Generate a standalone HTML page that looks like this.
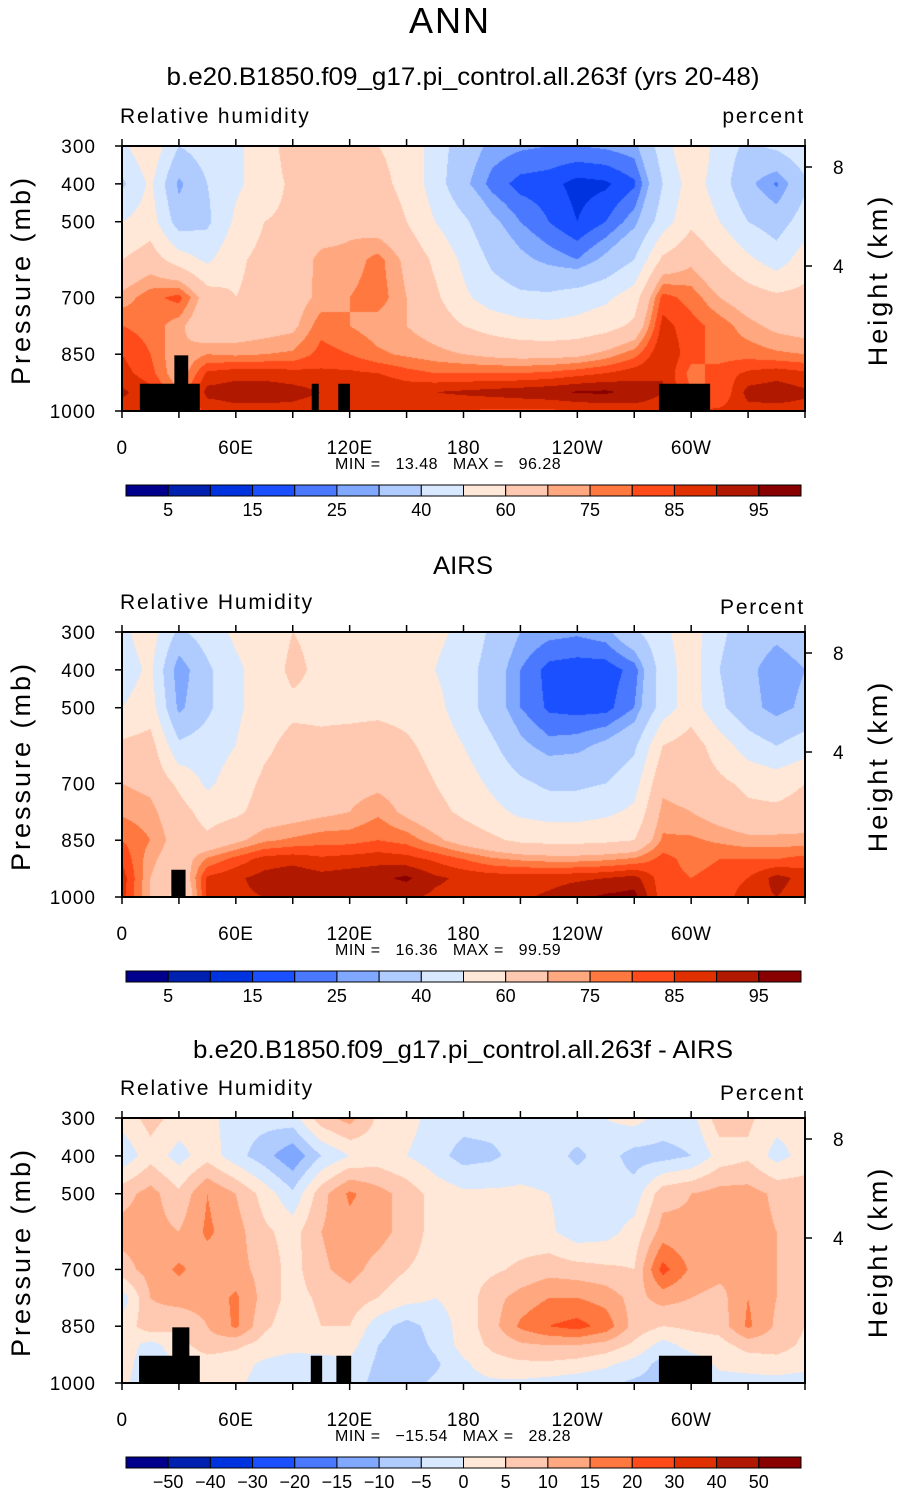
<!DOCTYPE html>
<html><head><meta charset="utf-8">
<style>
body{margin:0;background:#fff;width:899px;height:1493px;position:relative;overflow:hidden;font-family:"Liberation Sans",sans-serif}
canvas{position:absolute}
svg{position:absolute;left:0;top:0}
</style></head>
<body>
<canvas id="c0" width="683" height="265" style="left:122px;top:146px"></canvas>
<canvas id="c1" width="683" height="265" style="left:122px;top:632px"></canvas>
<canvas id="c2" width="683" height="265" style="left:122px;top:1118px"></canvas>
<svg id="ov" width="899" height="1493"></svg>
<script>
const levels=[300,400,500,600,700,775,850,900,950,1000];
const lons=[0,15,30,45,60,75,90,105,120,135,150,165,180,195,210,225,240,255,270,285,300,315,330,345,360];
const model=[
[48,58,40,45,48,55,65,65,65,60,58,45,35,28,26,25,25,26,28,45,60,45,38,42,48],
[38,52,28,40,48,55,62,62,65,62,58,45,32,23,18,17,13,14,19,40,55,45,32,24,38],
[50,55,35,38,52,60,62,65,68,65,60,50,42,32,25,20,15,20,28,45,58,50,40,35,45],
[60,65,55,48,58,63,65,72,72,77,68,58,48,38,32,28,25,32,40,62,68,60,52,45,55],
[72,78,82,65,60,63,66,72,75,78,70,62,52,45,42,42,45,48,55,82,78,70,65,62,63],
[80,78,72,62,64,66,68,78,75,72,70,66,60,56,53,52,53,56,62,87,82,78,72,68,66],
[85,80,70,75,74,75,76,82,80,76,74,72,70,68,67,67,68,72,78,90,82,78,78,76,75],
[87,82,70,86,88,88,87,86,86,85,82,80,80,80,80,81,83,85,88,90,78,82,86,88,86],
[91,87,75,92,93,93,92,90,88,90,89,90,91,92,93,94,95.5,96,93,90,80,80,92,93,91],
[88,86,80,86,88,88,88,87,87,86,87,86,85,84,84,84,85,86,88,88,85,86,88,88,88]];
const airs=[
[48,55,38,45,52,55,60,58,56,55,55,52,48,38,30,27,26,28,38,48,55,42,35,32,35],
[45,52,25,38,48,55,62,58,56,58,55,50,45,35,25,18,17,17,22,45,55,40,32,26,30],
[50,55,28,38,48,55,58,58,57,57,56,53,45,35,25,19,18,18,25,45,55,42,33,27,32],
[62,64,42,45,50,58,63,62,64,66,62,56,50,42,32,27,28,32,38,60,65,55,45,40,45],
[70,68,58,48,55,62,65,66,67,68,66,60,55,48,42,38,38,40,46,68,66,62,58,56,60],
[74,72,64,56,58,64,66,68,70,74,68,63,58,53,48,46,46,48,52,72,70,66,62,62,64],
[80,75,66,62,68,74,76,78,78,80,78,72,66,62,58,57,57,58,60,76,76,74,72,72,72],
[84,72,64,76,82,87,88,86,87,88,87,84,80,76,74,73,73,74,76,82,78,80,80,80,82],
[88,70,60,86,89,92,94,92,93,94,96,91,89,88,88,88,89,90,92,82,80,82,85,92,88],
[87,70,55,86,89,90,91,90,90,91,91,89,88,88,89,91,94,96,97,82,80,82,88,90,87]];
const diff=[
[2,7,3,2,-3,-3,-2,8,12,4,2,-2,-3,-3,-3,-3,-2,0,2,-2,-2,8,6,2,2],
[-4,3,-2,3,-3,-8,-14,-5,0,2,0,-3,-7,-6,-3,-3,-6,-3,-7,-7,-5,2,4,-2,2],
[8,12,6,15,10,3,-4,8,16,12,8,3,1,1,1,0,-2,-3,-3,8,10,12,12,9,8],
[12,12,10,16,12,6,3,10,13,12,8,3,2,2,2,1,-3,-2,2,12,11,12,12,10,10],
[8,12,16,12,12,8,3,9,12,8,5,3,3,4,6,8,7,6,5,22,14,12,10,10,8],
[-3,10,12,12,16,8,3,6,8,5,2,0,2,8,12,15,15,13,8,12,10,8,15,10,7],
[2,8,6,10,16,6,2,5,5,-3,-7,-3,2,8,16,20,22,18,8,5,6,7,16,9,5],
[3,-2,3,8,6,3,2,2,2,-5,-8,-4,2,6,9,10,10,8,4,-2,2,3,7,7,4],
[2,-3,0,2,2,-1,-3,-2,-1,-6,-9,-6,-1,3,4,4,3,1,-2,-7,-3,1,2,3,2],
[1,-3,0,2,1,-2,-3,-3,-2,-7,-7,-4,-2,-1,-1,-2,-3,-4,-6,-7,-3,-2,-2,-2,-3]];
const rhBounds=[5,10,15,20,25,30,40,50,60,70,75,80,85,90,95];
const rhTicks=["5","15","25","40","60","75","85","95"];
const diffBounds=[-50,-40,-30,-20,-15,-10,-5,0,5,10,15,20,30,40,50];
const diffTicks=["−50","−40","−30","−20","−15","−10","−5","0","5","10","15","20","30","40","50"];
const colors=["#00008c","#0020b0","#0033e0","#1a50ff","#4a78ff","#80a8ff","#b0ccff","#d8e8ff","#ffe8d8","#ffc8b0","#ffa880","#ff7840","#ff4a1a","#e03000","#b01800","#880000"];
const topo1=[[9.4,41,928],[27.6,34.9,853],[100,103.7,928],[114,120.2,928],[283,310,928]];
const topo2=[[26,33.5,928]];
const topo3=[[9,41,928],[26.5,35.5,853],[99.5,105.5,928],[113,120.8,928],[283,311,928]];

const PX=122,PW=683,PH=265;
const xOf=lon=>PX+lon/360*PW;
const yOf=(p,top)=>top+(p-300)/700*PH;
function rgb(h){return[parseInt(h.slice(1,3),16),parseInt(h.slice(3,5),16),parseInt(h.slice(5,7),16)];}
const crgb=colors.map(rgb);
function draw(id,grid,bounds){
  const cv=document.getElementById(id),ctx=cv.getContext('2d');
  const img=ctx.createImageData(PW,PH);
  for(let j=0;j<PH;j++){
    const p=300+(j+0.5)/PH*700;
    let r=0;while(r<levels.length-2&&p>levels[r+1])r++;
    const ty=(p-levels[r])/(levels[r+1]-levels[r]);
    for(let i=0;i<PW;i++){
      const lon=(i+0.5)/PW*360;
      let c=Math.min(Math.floor(lon/15),lons.length-2);
      const tx=(lon-lons[c])/15;
      const v=(grid[r][c]*(1-tx)+grid[r][c+1]*tx)*(1-ty)+(grid[r+1][c]*(1-tx)+grid[r+1][c+1]*tx)*ty;
      let k=0;while(k<bounds.length&&v>=bounds[k])k++;
      const col=crgb[k],o=(j*PW+i)*4;
      img.data[o]=col[0];img.data[o+1]=col[1];img.data[o+2]=col[2];img.data[o+3]=255;
    }
  }
  ctx.putImageData(img,0,0);
}
draw('c0',model,rhBounds);draw('c1',airs,rhBounds);draw('c2',diff,diffBounds);

const NS="http://www.w3.org/2000/svg",svg=document.getElementById('ov');
function el(tag,attrs,text){const e=document.createElementNS(NS,tag);for(const k in attrs)e.setAttribute(k,attrs[k]);if(text!==undefined)e.textContent=text;svg.appendChild(e);return e;}
function txt(x,y,s,size,anchor,name,extra){const e=el('text',Object.assign({x:x,y:y,'font-size':size,'text-anchor':anchor||'start','font-family':'Liberation Sans, sans-serif',fill:'#000'},extra||{}),s);


return e;}

txt(450,33,"ANN",36,'middle','main-title',{'font-weight':'300','letter-spacing':'2'});
const panels=[
 {top:146,title:"b.e20.B1850.f09_g17.pi_control.all.263f (yrs 20-48)",ty:85,lab:"Relative humidity",unit:"percent",unitY:123,min:"13.48",max:"96.28",topo:topo1,bounds:rhBounds,ticks:rhTicks,every:2,name:"model"},
 {top:632,title:"AIRS",ty:574,lab:"Relative Humidity",unit:"Percent",unitY:614,min:"16.36",max:"99.59",topo:topo2,bounds:rhBounds,ticks:rhTicks,every:2,name:"airs"},
 {top:1118,title:"b.e20.B1850.f09_g17.pi_control.all.263f - AIRS",ty:1058,lab:"Relative Humidity",unit:"Percent",unitY:1100,min:"−15.54",max:"28.28",topo:topo3,bounds:diffBounds,ticks:diffTicks,every:1,name:"diff"}];
const xt=[[0,"0"],[60,"60E"],[120,"120E"],[180,"180"],[240,"120W"],[300,"60W"]];
const yt=[300,400,500,700,850,1000];
panels.forEach((P,pi)=>{
  const T=P.top;
  txt(463,P.ty,P.title,25,'middle',P.name+'-title',{'textLength':pi==1?60:(pi==0?593:540),'lengthAdjust':'spacingAndGlyphs'});
  txt(120,T-23,P.lab,21,'start',P.name+'-variable-label',{'letter-spacing':'1.8'});
  txt(805,P.unitY,P.unit,21,'end',P.name+'-units-label',{'letter-spacing':'1.8'});
  P.topo.forEach(b=>{
    const r=el('rect',{x:xOf(b[0]),y:yOf(b[2],T),width:xOf(b[1])-xOf(b[0]),height:T+PH-yOf(b[2],T),fill:'#000'});
    
    
  });
  const fr=el('rect',{x:PX,y:T,width:PW,height:PH,fill:'none',stroke:'#000','stroke-width':2});
  
  
  for(let lon=0;lon<=360;lon+=30){
    el('line',{x1:xOf(lon),x2:xOf(lon),y1:T,y2:T-7,stroke:'#000','stroke-width':1.5});
    el('line',{x1:xOf(lon),x2:xOf(lon),y1:T+PH,y2:T+PH+7,stroke:'#000','stroke-width':1.5});
  }
  xt.forEach(t=>txt(xOf(t[0]),T+PH+43,t[1],19,'middle','x-tick-label',{'letter-spacing':'0.5'}));
  yt.forEach(p=>{el('line',{x1:PX-7,x2:PX,y1:yOf(p,T),y2:yOf(p,T),stroke:'#000','stroke-width':1.5});
    txt(96,yOf(p,T)+7,String(p),19,'end','y-tick-label',{'letter-spacing':'1'});});
  [[8,T+21],[4,T+120]].forEach(h=>{el('line',{x1:PX+PW,x2:PX+PW+7,y1:h[1],y2:h[1],stroke:'#000','stroke-width':1.5});
    txt(833,h[1]+7,String(h[0]),19,'start','height-tick-label');});
  txt(0,0,"Pressure (mb)",27,'middle','y-axis-title',{transform:`translate(30,${T+134}) rotate(-90)`,'letter-spacing':'3'});
  txt(0,0,"Height (km)",27,'middle','right-axis-title',{transform:`translate(887,${T+134}) rotate(-90)`,'letter-spacing':'3'});
  txt(335,T+323,"MIN =   "+P.min+"   MAX =   "+P.max,16,'start','min-max-label',{style:'white-space:pre','letter-spacing':'0.5'});
  const cy=T+339,cw=675/16;
  colors.forEach((c,k)=>{const r=el('rect',{x:126+k*cw,y:cy,width:cw,height:11,fill:c,stroke:'#000','stroke-width':1});
    
    });
  P.bounds.forEach((b,k)=>{ if(P.every==2&&k%2==1)return;
    txt(126+(k+1)*cw,cy+31,P.ticks[P.every==2?k/2:k],18,'middle','colorbar-label');});
});
</script>
</body></html>
